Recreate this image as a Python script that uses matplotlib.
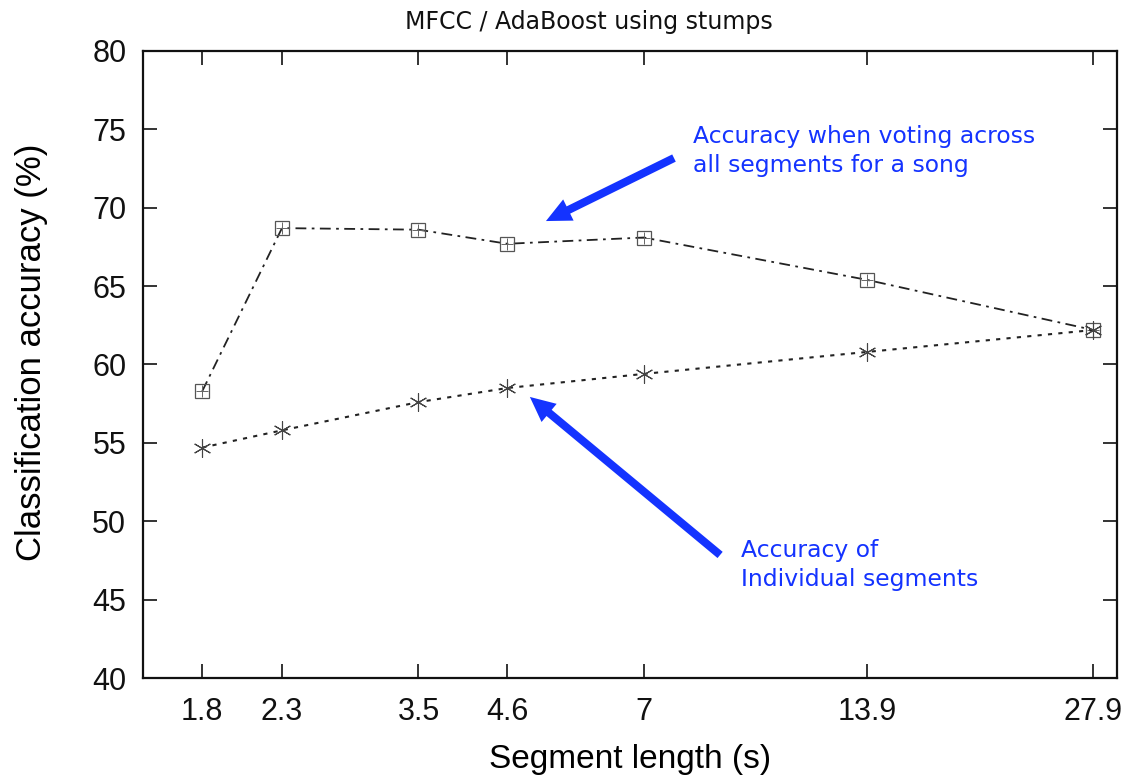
import matplotlib
matplotlib.use("Agg")
import matplotlib.pyplot as plt
from matplotlib.ticker import FixedLocator, NullLocator, FixedFormatter

# Segment lengths (seconds) and accuracies (%)
segment_len = [1.8, 2.3, 3.5, 4.6, 7, 13.9, 27.9]
xtick_labels = ["1.8", "2.3", "3.5", "4.6", "7", "13.9", "27.9"]
acc_voting = [58.3, 68.7, 68.6, 67.7, 68.1, 65.4, 62.2]
acc_segments = [54.7, 55.8, 57.6, 58.5, 59.4, 60.8, 62.2]
yticks = [40, 45, 50, 55, 60, 65, 70, 75, 80]

fig = plt.figure(figsize=(11.33, 7.77), dpi=100)
ax = fig.add_axes([0.1262, 0.1274, 0.8597, 0.8070])

ax.plot(segment_len, acc_voting, color="#222222", lw=1.3,
        linestyle=(0, (6, 3, 1.5, 3)), marker="s", markersize=10,
        markerfacecolor="none", markeredgecolor="#555555", markeredgewidth=0.9)
ax.plot(segment_len, acc_voting, linestyle="none", marker="+", markersize=9,
        markeredgecolor="#666666", markeredgewidth=0.7)
ax.plot(segment_len, acc_segments, color="#222222", lw=1.5,
        linestyle=(0, (2, 3)), marker=(6, 2, 0), markersize=13,
        markeredgecolor="#444444", markeredgewidth=0.8)

ax.set_xscale("log")
ax.set_xlim(1.5, 30)
ax.set_ylim(40, 80)
ax.xaxis.set_major_locator(FixedLocator(segment_len))
ax.xaxis.set_major_formatter(FixedFormatter(xtick_labels))
ax.xaxis.set_minor_locator(NullLocator())
ax.set_yticks(yticks)

for lab in ax.get_xticklabels() + ax.get_yticklabels():
    lab.set_fontfamily("Liberation Sans")
    lab.set_fontsize(22)
ax.tick_params(axis="both", which="major", direction="in", length=10,
               width=1.2, top=True, right=True, pad=14, colors="#111111")
ax.tick_params(axis="y", pad=12)
for sp in ax.spines.values():
    sp.set_linewidth(1.6)
    sp.set_color("#111111")

ax.set_xlabel("Segment length (s)", family="Liberation Sans", fontsize=24,
              labelpad=12)
ax.set_ylabel("Classification accuracy (%)", family="Liberation Sans",
              fontsize=25)
ax.yaxis.set_label_coords(-0.098, 0.519)
fig.text(0.520, 0.972, "MFCC / AdaBoost using stumps", ha="center", va="center",
         fontsize=17, family="DejaVu Sans", color="#111111")

blue = "#1433FF"
arrow_kw = dict(width=5.8, headwidth=17, headlength=18, shrink=0,
                color=blue, lw=0)
ax.annotate("", xy=(5.18, 69.15), xytext=(7.68, 73.17), arrowprops=arrow_kw)
ax.annotate("", xy=(4.93, 57.93), xytext=(8.85, 47.85), arrowprops=arrow_kw)
ax.text(8.14, 73.6, "Accuracy when voting across\nall segments for a song",
        ha="left", va="center", fontsize=16.9, color=blue,
        family="DejaVu Sans", linespacing=1.35)
ax.text(9.44, 47.2, "Accuracy of\nIndividual segments",
        ha="left", va="center", fontsize=16.9, color=blue,
        family="DejaVu Sans", linespacing=1.35)

fig.savefig("out.png", dpi=100)
